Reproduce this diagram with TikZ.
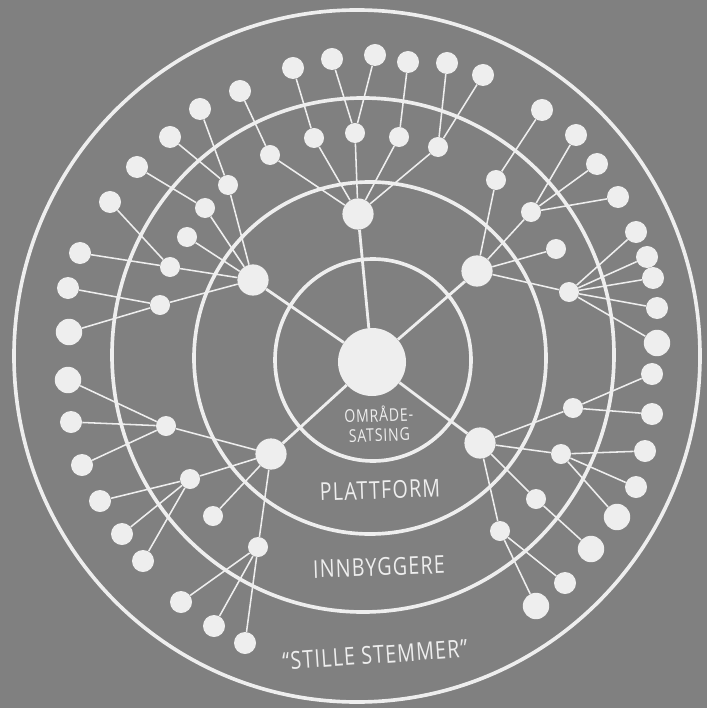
\documentclass[tikz,border=0pt]{standalone}
\usepackage{fontspec}
\newfontfamily\chalkfont{Open Sans}[LetterSpace=6]
\definecolor{board}{RGB}{128,128,128}
\definecolor{chalk}{RGB}{238,238,238}
\newcommand{\tall}[1]{\scalebox{1}[1.25]{#1}}

\begin{document}
\begin{tikzpicture}[x=0.025cm, y=-0.025cm,
    ring/.style={draw=chalk, line width=2.6pt},
    spoke/.style={draw=chalk, line width=2pt},
    link/.style={draw=chalk, line width=1.1pt},
    core/.style={circle, fill=chalk, inner sep=0pt, minimum size=17mm},
    hub/.style={circle, fill=chalk, inner sep=0pt, minimum size=7.8mm},
    knot/.style={circle, fill=chalk, inner sep=0pt, minimum size=5mm},
    leaf/.style={circle, fill=chalk, inner sep=0pt, minimum size=5.5mm},
    bigleaf/.style={leaf, minimum size=6.6mm},
    ringtext/.style={text=chalk, inner sep=0pt, font=\chalkfont\fontsize{14}{16}\selectfont}]
  \useasboundingbox (0,0) rectangle (707,708);
  \fill[board] (0,0) rectangle (707,708);

  % the four rings
  \draw[ring] (373,360) ellipse [x radius=98, y radius=101];
  \draw[ring] (370,358) ellipse [x radius=176, y radius=176];
  \draw[ring] (363,355) ellipse [x radius=251, y radius=257];
  \draw[ring] (357,356) ellipse [x radius=343, y radius=346];

  % centre and the five hubs
  \node[core] (c) at (372,362) {};
  \node[hub] (top) at (358,214) {};
  \node[hub] (upl) at (253,280) {};
  \node[hub] (upr) at (477,271) {};
  \node[hub] (lol) at (271,454) {};
  \node[hub] (lor) at (480,443) {};
  \foreach \h in {top,upl,upr,lol,lor}
    \draw[spoke] (c) -- (\h);

  % second level, hung on the hubs
  \foreach \p/\n/\h in {
      (270,155)/t1/top, (314,138)/t2/top, (355,133)/t3/top,
      (399,137)/t4/top, (438,147)/t5/top,
      (228,185)/l1/upl, (205,208)/l2/upl, (187,237)/l3/upl,
      (170,267)/l4/upl, (160,305)/l5/upl,
      (496,180)/r1/upr, (531,212)/r2/upr, (556,249)/r3/upr,
      (569,292)/r4/upr,
      (573,408)/m1/lor, (561,454)/m2/lor, (536,499)/m3/lor,
      (500,531)/m4/lor,
      (166,426)/n1/lol, (190,479)/n2/lol, (213,516)/n3/lol,
      (258,547)/n4/lol} {
    \node[knot] (\n) at \p {};
    \draw[link] (\h) -- (\n);
  }

  % outer leaves
  \foreach \p/\n/\m in {
      (240,91)/ta/t1, (293,68)/tb/t2, (332,59)/tc/t3, (375,55)/td/t3,
      (408,62)/te/t4, (447,63)/tf/t5, (483,75)/tg/t5,
      (200,109)/la/l1, (170,137)/lb/l1, (137,167)/lc/l2,
      (110,202)/ld/l4, (80,253)/le/l4, (68,288)/lf/l5,
      (542,110)/ra/r1, (576,135)/rb/r2, (597,164)/rc/r2, (618,197)/rd/r2,
      (636,232)/re/r4, (647,257)/rf/r4, (653,278)/rg/r4, (657,308)/rh/r4,
      (652,374)/ma/m1, (652,414)/mb/m1, (645,451)/mc/m2, (636,487)/md/m2,
      (565,583)/mg/m4,
      (71,422)/na/n1, (82,465)/nb/n1, (100,501)/nc/n2, (122,534)/nd/n2,
      (143,561)/ne/n2, (181,602)/nf/n4, (214,626)/ng/n4, (245,643)/nh/n4} {
    \node[leaf] (\n) at \p {};
    \draw[link] (\m) -- (\n);
  }
  \foreach \p/\n/\m in {
      (69,332)/lg/l5, (657,343)/ri/r4, (617,517)/me/m2, (591,549)/mf/m3,
      (536,606)/mh/m4, (68,380)/nz/n1} {
    \node[bigleaf] (\n) at \p {};
    \draw[link] (\m) -- (\n);
  }

  % ring names
  \node[ringtext, align=center, font=\chalkfont\fontsize{10}{14}\selectfont, rotate=2]
    (omr) at (379,424) {\tall{OMRÅDE-}\\\tall{SATSING}};
  \node[ringtext, rotate=2] (plat) at (380,490) {\tall{PLATTFORM}};
  \node[ringtext, rotate=2] (innb) at (379,567) {\tall{INNBYGGERE}};
  \node[ringtext, rotate=4] (still) at (375,655) {\tall{“STILLE STEMMER”}};
\end{tikzpicture}
\end{document}
